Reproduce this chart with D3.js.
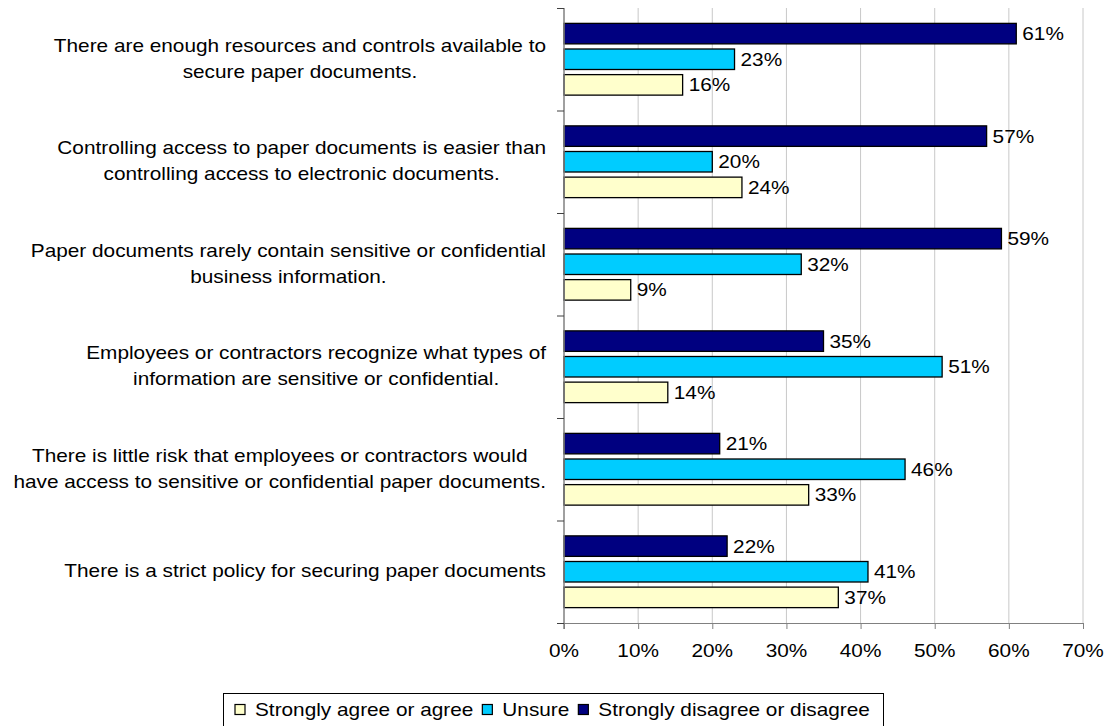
<!DOCTYPE html>
<html>
<head>
<meta charset="utf-8">
<script src="https://cdn.jsdelivr.net/npm/d3@7"></script>
<style>
  html, body { margin: 0; padding: 0; background: #fff; }
  svg { display: block; font-family: "Liberation Sans", Arial, sans-serif; }
</style>
</head>
<body>
<svg id="chart" width="1107" height="726"></svg>
<script>
// Survey statements (each entry is a list of wrapped lines)
const categories = [
  ["There are enough resources and controls available to", "secure paper documents."],
  ["Controlling access to paper documents is easier than", "controlling access to electronic documents."],
  ["Paper documents rarely contain sensitive or confidential", "business information."],
  ["Employees or contractors recognize what types of", "information are sensitive or confidential."],
  ["There is little risk that employees or contractors would", "have access to sensitive or confidential paper documents."],
  ["There is a strict policy for securing paper documents"]
];
const seriesNames = ["Strongly agree or agree", "Unsure", "Strongly disagree or disagree"];
const agreeValues = [16, 24, 9, 14, 33, 37];
const unsureValues = [23, 20, 32, 51, 46, 41];
const disagreeValues = [61, 57, 59, 35, 21, 22];
const tickValues = [0, 10, 20, 30, 40, 50, 60, 70];
const seriesColors = ["#FFFFCC", "#00CCFF", "#000080"];

const seriesValues = [agreeValues, unsureValues, disagreeValues];
const catKeys = categories.map((c, i) => i);
const FONT = 18;
const SX = 1.155;   // wide text rendering

const svg = d3.select("#chart");
const plot = { left: 564, right: 1083, top: 8, bottom: 623 };

// text drawn horizontally widened, anchored at (px, py)
function wideText(parent, px, py, anchor) {
  return parent.append("g")
    .attr("transform", `translate(${px},${py}) scale(${SX},1)`)
    .append("text")
    .attr("font-size", FONT)
    .attr("fill", "#000")
    .attr("text-anchor", anchor || "start")
    .attr("dy", "0.36em");
}

const x = d3.scaleLinear().domain([0, 70]).range([plot.left, plot.right]);
const y0 = d3.scaleBand().domain(catKeys).range([plot.top, plot.bottom]);
// within a group: disagree on top, then unsure, then agree
const y1 = d3.scaleBand().domain([2, 1, 0]).range([0, y0.bandwidth()])
  .paddingInner(0.2).paddingOuter(0.6);

// vertical gridlines
svg.append("g").selectAll("line")
  .data(tickValues.filter(t => t > 0))
  .join("line")
  .attr("x1", d => x(d)).attr("x2", d => x(d))
  .attr("y1", plot.top).attr("y2", plot.bottom)
  .attr("stroke", "#c8c8c8").attr("stroke-width", 1);

// bars
const barData = catKeys.flatMap(ci => seriesValues.map((vals, si) => ({ ci, si, v: vals[ci] })));
svg.append("g").selectAll("rect")
  .data(barData)
  .join("rect")
  .attr("x", x(0))
  .attr("y", d => y0(d.ci) + y1(d.si))
  .attr("width", d => x(d.v) - x(0))
  .attr("height", y1.bandwidth())
  .attr("fill", d => seriesColors[d.si])
  .attr("stroke", "#000").attr("stroke-width", 1.3);

// value labels
const valueLayer = svg.append("g");
barData.forEach(d => {
  wideText(valueLayer, x(d.v) + 6, y0(d.ci) + y1(d.si) + y1.bandwidth() / 2)
    .text(d.v + "%");
});

// x axis
const xAxis = d3.axisBottom(x)
  .tickValues(tickValues)
  .tickSize(6)
  .tickFormat("");
const gx = svg.append("g").attr("transform", `translate(0,${plot.bottom})`).call(xAxis);
gx.select(".domain").attr("stroke", "#808080").attr("d", `M${plot.left - 7},0.5H${plot.right}`);
gx.selectAll(".tick line").attr("stroke", "#808080");
const tickLayer = svg.append("g");
tickValues.forEach(t => {
  wideText(tickLayer, x(t), plot.bottom + 28, "middle").text(t + "%");
});

// y axis: line with ticks at group boundaries
const gy = svg.append("g");
gy.append("line")
  .attr("x1", plot.left).attr("x2", plot.left)
  .attr("y1", plot.top).attr("y2", plot.bottom + 6)
  .attr("stroke", "#808080").attr("stroke-width", 1.5);
const boundaries = catKeys.map(k => y0(k)).concat([plot.bottom]);
gy.selectAll("line.tk")
  .data(boundaries)
  .join("line").attr("class", "tk")
  .attr("x1", plot.left - 7).attr("x2", plot.left)
  .attr("y1", d => d + 0.5).attr("y2", d => d + 0.5)
  .attr("stroke", "#404040").attr("stroke-width", 1);

// category labels: lines centered inside a block that is right-aligned
const labelRight = 546;
const lineH = 26;
const labelLayer = svg.append("g");
catKeys.forEach(k => {
  const lines = categories[k];
  const cy = y0(k) + y0.bandwidth() / 2 - 1;
  const g = labelLayer.append("g");
  const texts = lines.map((ln, i) =>
    wideText(g, 0, cy + (i - (lines.length - 1) / 2) * lineH, "middle").text(ln));
  const maxW = d3.max(texts, t => t.node().getComputedTextLength()) * SX;
  g.attr("transform", `translate(${labelRight - maxW / 2},0)`);
});

// legend
const legend = svg.append("g");
legend.append("rect")
  .attr("x", 223.5).attr("y", 693.5)
  .attr("width", 660).attr("height", 34)
  .attr("fill", "#fff").attr("stroke", "#000").attr("stroke-width", 1);
let lx = 235;
const ly = 710;
seriesNames.forEach((name, i) => {
  legend.append("rect")
    .attr("x", lx).attr("y", ly - 5.5)
    .attr("width", 10).attr("height", 10)
    .attr("fill", seriesColors[i]).attr("stroke", "#000").attr("stroke-width", 1.2);
  const t = wideText(legend, lx + 20, ly).text(name);
  lx += 20 + t.node().getComputedTextLength() * SX + 9;
});
</script>
</body>
</html>
